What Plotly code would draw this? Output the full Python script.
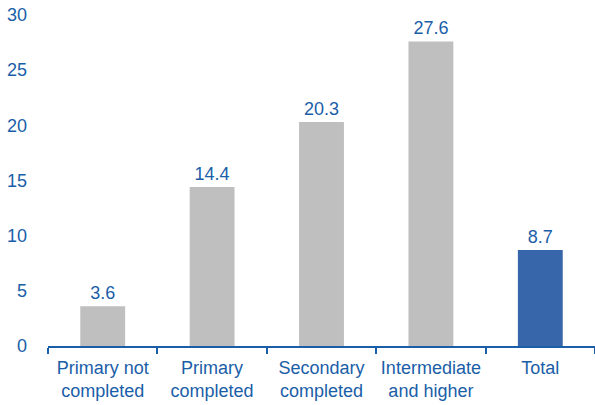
import plotly.graph_objects as go

categories = ["Primary not<br>completed", "Primary<br>completed", "Secondary<br>completed",
              "Intermediate<br>and higher", "Total"]
values = [3.6, 14.4, 20.3, 27.6, 8.7]
bar_colors = ["#bfbfbf", "#bfbfbf", "#bfbfbf", "#bfbfbf", "#3767aa"]

BLUE = "#1a5ea8"
FONT = "Liberation Sans, Arial, sans-serif"
FS = 18

fig = go.Figure(
    go.Bar(
        x=categories,
        y=values,
        marker=dict(color=bar_colors, line=dict(width=0)),
        width=0.41,
        text=[f"{v:.1f}" for v in values],
        textposition="outside",
        textfont=dict(family=FONT, size=FS, color=BLUE),
        cliponaxis=False,
    )
)

fig.update_layout(
    width=595,
    height=405,
    margin=dict(l=48, r=0, t=15, b=59, autoexpand=False),
    paper_bgcolor="white",
    plot_bgcolor="white",
    showlegend=False,
    font=dict(family=FONT, size=FS, color=BLUE),
    bargap=0.59,
    uniformtext=dict(mode="show", minsize=FS),
)

fig.update_xaxes(
    showline=True,
    linecolor=BLUE,
    linewidth=2,
    ticks="outside",
    tickson="boundaries",
    ticklen=6,
    tickwidth=2,
    tickcolor=BLUE,
    tickangle=0,
    automargin=False,
    ticklabelstandoff=4,
    tickfont=dict(family=FONT, size=FS, color=BLUE),
    showgrid=False,
    range=[-0.5, 4.5],
)

fig.update_yaxes(
    range=[0, 30],
    tickvals=[0, 5, 10, 15, 20, 25, 30],
    showgrid=False,
    showline=False,
    zeroline=False,
    ticks="",
    automargin=False,
    ticklabelstandoff=20,
    tickfont=dict(family=FONT, size=FS, color=BLUE),
)

fig.write_html("out.html")
